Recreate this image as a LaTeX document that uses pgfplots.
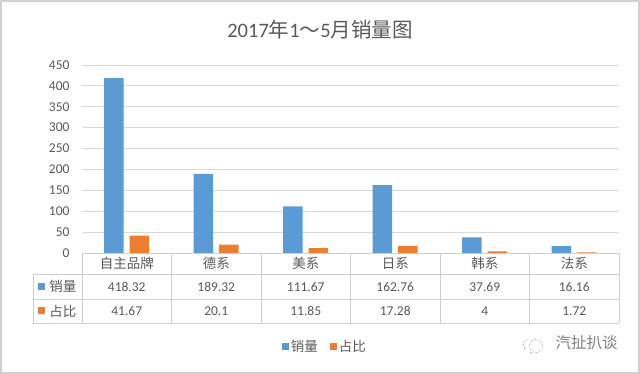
\documentclass[border=0pt]{standalone}
\usepackage{fontspec}
\setmainfont{Carlito}
\newfontfamily\cjk{Noto Sans CJK SC}
\usepackage{pgfplots}
\pgfplotsset{compat=1.18}
\definecolor{sblue}{HTML}{5B9BD5}
\definecolor{sorange}{HTML}{ED7D31}
\definecolor{txt}{HTML}{595959}
\definecolor{gridc}{HTML}{D9D9D9}
\definecolor{tabc}{HTML}{CFCFCF}
\begin{document}
\begin{tikzpicture}[x=1pt,y=1pt]
\path[use as bounding box] (-82,-121) rectangle (558,253);
\draw[color=gridc!80!black!20!gridc, line width=1.5pt] (-81.2,-120.2) rectangle (557.2,252.2);
\begin{axis}[
  at={(0,0)}, anchor=south west,
  scale only axis, width=537pt, height=188pt,
  xmin=-0.5, xmax=5.5, ymin=0, ymax=450,
  ytick={0,50,...,450}, xtick=\empty,
  ymajorgrids, grid style={gridc, line width=0.8pt},
  axis line style={draw=none}, major tick length=0pt,
  yticklabel style={font=\fontsize{13.5}{16}\selectfont, text=txt, xshift=-9pt},
  /pgf/number format/assume math mode=true,
  ybar=6pt, bar width=19.5pt,
  clip=false,
  legend style={at={(0.4525,-0.5)}, anchor=center, draw=none, fill=none,
    legend columns=2, font=\cjk\fontsize{13.5}{16}\selectfont, text=txt,
    /tikz/every even column/.append style={column sep=10pt}},
  legend image code/.code={\fill[#1] (0pt,-3.5pt) rectangle (7pt,3.5pt);},
]
\addplot[fill=sblue, draw=none] coordinates {(0,418.32) (1,189.32) (2,111.67) (3,162.76) (4,37.69) (5,16.16)};
\addplot[fill=sorange, draw=none] coordinates {(0,41.67) (1,20.1) (2,11.85) (3,17.28) (4,4) (5,1.72)};
\legend{销量,占比}
\end{axis}
% table grid
\begin{scope}[tabc, line width=0.8pt]
\draw (0,0)--(537,0);
\draw (-49,-21)--(537,-21);
\draw (-49,-46)--(537,-46);
\draw (-49,-70)--(537,-70);
\draw (-49,-21)--(-49,-70);
\foreach \k in {0,...,6} \draw (89.5*\k,0)--(89.5*\k,-70);
\end{scope}
% table text
\begin{scope}[every node/.style={text=txt, font=\fontsize{13.5}{16}\selectfont, inner sep=0pt}]
\foreach \n [count=\i from 0] in {自主品牌,德系,美系,日系,韩系,法系}
  \node at (44.75+89.5*\i,-10.5) {\cjk\n};
\foreach \v [count=\i from 0] in {418.32,189.32,111.67,162.76,37.69,16.16}
  \node at (44.75+89.5*\i,-33.5) {\v};
\foreach \v [count=\i from 0] in {41.67,20.1,11.85,17.28,4,1.72}
  \node at (44.75+89.5*\i,-58) {\v};
\fill[sblue] (-43.5,-37) rectangle (-36.5,-30);
\fill[sorange] (-43.5,-61.5) rectangle (-36.5,-54.5);
\node at (-19,-33.5) {\cjk 销量};
\node at (-19,-58) {\cjk 占比};
\end{scope}
% title
\node[text=txt, font=\fontsize{20.5}{24}\selectfont] at (238,223) {2017{\cjk 年}1{\cjk ～}5{\cjk 月销量图}};
% watermark
\node[text=gray, font=\cjk\fontsize{15.5}{18}\selectfont] at (504.5,-90) {汽扯扒谈};
\draw[gray!70, densely dotted, line width=0.7pt] (454,-93) circle (6.5);
\draw[gray!70, densely dotted, line width=0.7pt] (446,-87) arc (90:200:5);
\fill[gray!70] (443,-95) circle (0.8) (449,-100) circle (0.8);
\end{tikzpicture}
\end{document}
